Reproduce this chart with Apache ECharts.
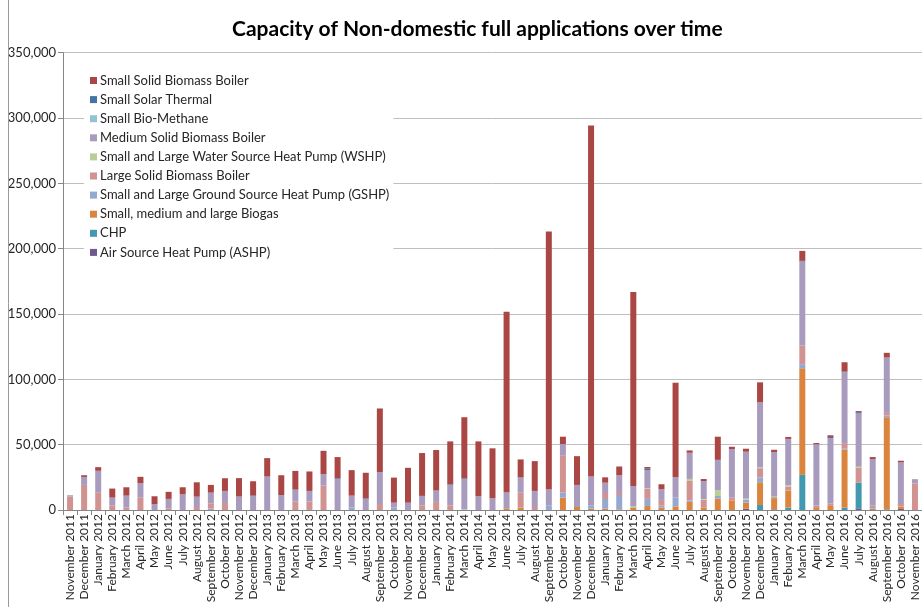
<!DOCTYPE html>
<html>
<head>
<meta charset="utf-8">
<script src="https://cdn.jsdelivr.net/npm/echarts@6/dist/echarts.min.js"></script>
<style>
  html, body { margin: 0; padding: 0; background: #fff; }
  #chart { width: 922px; height: 607px; }
</style>
</head>
<body>
<div id="chart"></div>
<script>
// Months with a non-domestic full application (label text as published)
const months = [
  'November 2011', 'December 2011',
  'January 2012', 'February 2012', 'March 2012', 'April 2012', 'May 2012', 'June 2012',
  'July 2012', 'August 2012', 'September 2012', 'October 2012', 'November 2012', 'December 2012',
  'January 2013', 'February 2013', 'March 2013', 'April 2013', 'May 2013', 'June 2013',
  'July 2013', 'August 2013', 'September 2013', 'October 2013', 'November 2013', 'December 2013',
  'January 2014', 'February 2014', 'March 2014', 'April 2014', 'May 2014', 'June 2014',
  'July 2014', 'August 2014', 'September 2014', 'October 2014', 'November 2014', 'December 2014',
  'January 2015', 'February 2015', 'March 2015', 'April 2015', 'May 2015', 'June 2015',
  'July 2015', 'August 2015', 'September 2015', 'October 2015', 'November 2015', 'December 2015',
  'January 2016', 'Febuary 2016', 'March 2016', 'April 2016', 'May 2016', 'June 2016',
  'July 2016', 'August 2016', 'September 2016', 'October 2016', 'November 2016'
];

// Capacity (kW) per technology, stacked bottom to top in this order
const ashp = [
  0, 0, 0, 0, 0, 0, 0, 0, 0, 0, 0, 0, 0, 0, 0, 0, 0, 0, 0, 0,
  0, 0, 0, 0, 0, 0, 0, 0, 0, 0, 0, 0, 0, 0, 0, 0, 0, 0, 0, 0,
  0, 0, 0, 0, 0, 0, 0, 0, 1000, 0, 500, 0, 0, 0, 0, 0, 1300, 0, 0, 800, 0
];
const chp = [
  0, 0, 0, 0, 0, 0, 0, 0, 0, 0, 0, 0, 0, 0, 0, 0, 0, 0, 0, 0,
  0, 0, 0, 0, 0, 0, 0, 0, 0, 0, 0, 0, 0, 0, 0, 0, 0, 0, 0, 0,
  0, 0, 0, 0, 0, 0, 0, 0, 0, 3800, 0, 1800, 26900, 0, 0, 1800, 19700, 0, 500, 0, 0
];
const biogas = [
  0, 0, 0, 0, 0, 0, 0, 0, 0, 0, 0, 0, 0, 0, 0, 0, 0, 0, 0, 0,
  0, 0, 0, 0, 0, 0, 0, 0, 0, 0, 0, 1300, 1800, 0, 0, 9500, 2300, 1000, 1000, 500,
  2000, 3100, 2000, 2800, 6200, 2000, 8700, 7400, 4600, 17400, 7900, 13100, 81600, 1500, 3100, 44400, 0, 1000, 70500, 1800, 0
];
const gshp = [
  0, 0, 0, 0, 0, 0, 0, 0, 0, 0, 1000, 0, 0, 0, 0, 0, 0, 0, 0, 0,
  2000, 0, 0, 1800, 0, 0, 0, 0, 0, 0, 0, 0, 0, 0, 3300, 3800, 0, 2600, 7400, 11000,
  0, 5400, 1300, 6700, 1000, 0, 2000, 0, 2300, 3800, 0, 0, 3100, 0, 0, 700, 0, 1300, 1300, 0, 0
];
const largeBiomass = [
  10300, 19200, 13600, 3600, 1800, 9700, 0, 1300, 0, 2300, 4100, 5400, 0, 0, 0, 0, 6400, 6400, 18700, 0,
  0, 0, 4600, 0, 0, 3600, 6200, 3600, 0, 0, 0, 0, 11800, 2300, 0, 28200, 0, 0, 4600, 2300,
  0, 7700, 4400, 0, 15100, 5900, 0, 2000, 0, 7000, 1500, 3100, 14200, 2000, 2000, 4300, 11300, 1300, 2000, 2000, 20300
];
const wshp = [
  0, 0, 0, 0, 0, 0, 0, 0, 0, 0, 0, 0, 0, 0, 0, 0, 0, 0, 0, 0,
  0, 0, 0, 0, 0, 0, 0, 0, 500, 0, 0, 0, 0, 0, 0, 0, 0, 0, 0, 0,
  1000, 500, 0, 0, 1500, 500, 4400, 0, 800, 800, 800, 1000, 0, 0, 0, 0, 800, 0, 0, 0, 0
];
const mediumBiomass = [
  1000, 6100, 16400, 5900, 9200, 10800, 4600, 7200, 12000, 7900, 8200, 9200, 10300, 10500, 25600, 11500, 9000, 8200, 8700, 23800,
  9000, 8500, 24400, 3800, 5600, 7200, 8700, 15600, 23300, 10500, 9000, 12000, 11300, 12300, 12300, 9000, 16900, 22000, 7900, 12800,
  15400, 13600, 8200, 15600, 20000, 13800, 23300, 37200, 35900, 49600, 33600, 35400, 64400, 46800, 50000, 54200, 40800, 35400, 42400, 31800, 3300
];
const bioMethane = [
  0, 0, 0, 0, 0, 0, 0, 0, 0, 0, 0, 0, 0, 0, 0, 0, 0, 0, 0, 0,
  0, 0, 0, 0, 0, 0, 0, 0, 0, 0, 0, 0, 0, 0, 0, 0, 0, 0, 0, 0,
  0, 0, 0, 0, 0, 0, 0, 0, 0, 0, 0, 0, 0, 0, 0, 0, 0, 0, 0, 0, 0
];
const solarThermal = [
  0, 0, 0, 0, 0, 0, 0, 0, 0, 0, 0, 0, 0, 500, 0, 0, 400, 0, 0, 500,
  0, 500, 0, 0, 0, 0, 0, 500, 500, 0, 0, 0, 0, 0, 0, 0, 0, 0, 0, 0,
  0, 1300, 0, 0, 0, 0, 0, 0, 0, 0, 0, 0, 500, 0, 800, 500, 1000, 0, 0, 0, 0
];
const smallBiomass = [
  0, 1300, 2800, 6900, 6400, 4900, 5900, 5400, 5400, 11000, 5900, 9700, 14100, 11000, 14100, 15100, 14100, 14900, 17900, 16200,
  19500, 19500, 48700, 19200, 26700, 32800, 31000, 32800, 46700, 42000, 38200, 138500, 13800, 22800, 197500, 5600, 22000, 268700, 4100, 6700,
  148400, 1300, 3800, 72300, 1800, 1500, 17700, 1800, 2300, 15300, 1800, 1500, 7600, 1000, 1300, 7200, 800, 1500, 3600, 1300, 0
];

// Y axis range
const yMax = 350000;
const yStep = 50000;

const FONT = 'Lato, "Liberation Sans", sans-serif';

// Stack order (bottom first) with series colours
const stackSeries = [
  { name: 'Air Source Heat Pump (ASHP)', data: ashp, color: '#71588F' },
  { name: 'CHP', data: chp, color: '#4198AF' },
  { name: 'Small, medium and large Biogas', data: biogas, color: '#DB843D' },
  { name: 'Small and Large Ground Source Heat Pump (GSHP)', data: gshp, color: '#93A9CF' },
  { name: 'Large Solid Biomass Boiler', data: largeBiomass, color: '#D19392' },
  { name: 'Small and Large Water Source Heat Pump (WSHP)', data: wshp, color: '#B9CD96' },
  { name: 'Medium Solid Biomass Boiler', data: mediumBiomass, color: '#A99BBD' },
  { name: 'Small Bio-Methane', data: bioMethane, color: '#92C3D4' },
  { name: 'Small Solar Thermal', data: solarThermal, color: '#4572A7' },
  { name: 'Small Solid Biomass Boiler', data: smallBiomass, color: '#AA4643' }
];

const chart = echarts.init(document.getElementById('chart'));

chart.setOption({
  backgroundColor: '#fff',
  animation: false,
  textStyle: { fontFamily: FONT },
  title: {
    text: 'Capacity of Non-domestic full applications over time',
    left: 227,
    top: 14,
    textStyle: { fontFamily: FONT, fontSize: 21, fontWeight: 'bold', color: '#000' }
  },
  legend: {
    orient: 'vertical',
    left: 84,
    top: 66,
    data: stackSeries.map(s => s.name).reverse(),
    icon: 'rect',
    itemWidth: 7,
    itemHeight: 7,
    itemGap: 6.1,
    padding: [8, 4, 8, 6],
    backgroundColor: '#fff',
    textStyle: { fontFamily: FONT, fontSize: 13, color: '#262626', padding: [0, 0, 0, -2] }
  },
  grid: { left: 63, right: 0, top: 52.7, bottom: 97, containLabel: false },
  xAxis: {
    type: 'category',
    data: months,
    boundaryGap: true,
    axisLine: { lineStyle: { color: '#868686', width: 1 } },
    axisTick: { show: true, length: 5, lineStyle: { color: '#868686' } },
    axisLabel: {
      interval: 0,
      rotate: 90,
      margin: 4,
      fontFamily: FONT,
      fontSize: 12,
      color: '#262626'
    }
  },
  yAxis: {
    type: 'value',
    min: 0,
    max: yMax,
    interval: yStep,
    axisLine: { show: true, lineStyle: { color: '#868686' } },
    axisTick: { show: true, length: 5, lineStyle: { color: '#868686' } },
    axisLabel: {
      margin: 7,
      fontFamily: FONT,
      fontSize: 13,
      color: '#262626',
      formatter: v => v.toLocaleString('en-US')
    },
    splitLine: { lineStyle: { color: '#BFBFBF', width: 1 } }
  },
  graphic: [{
    type: 'rect',
    shape: { x: 8.5, y: -10, width: 1000, height: 1000 },
    style: { fill: 'none', stroke: '#9A9A9A', lineWidth: 1 },
    silent: true,
    z: 100
  }],
  series: stackSeries.map(s => ({
    name: s.name,
    type: 'bar',
    stack: 'capacity',
    data: s.data,
    barWidth: 6,
    itemStyle: { color: s.color }
  }))
});
</script>
</body>
</html>
